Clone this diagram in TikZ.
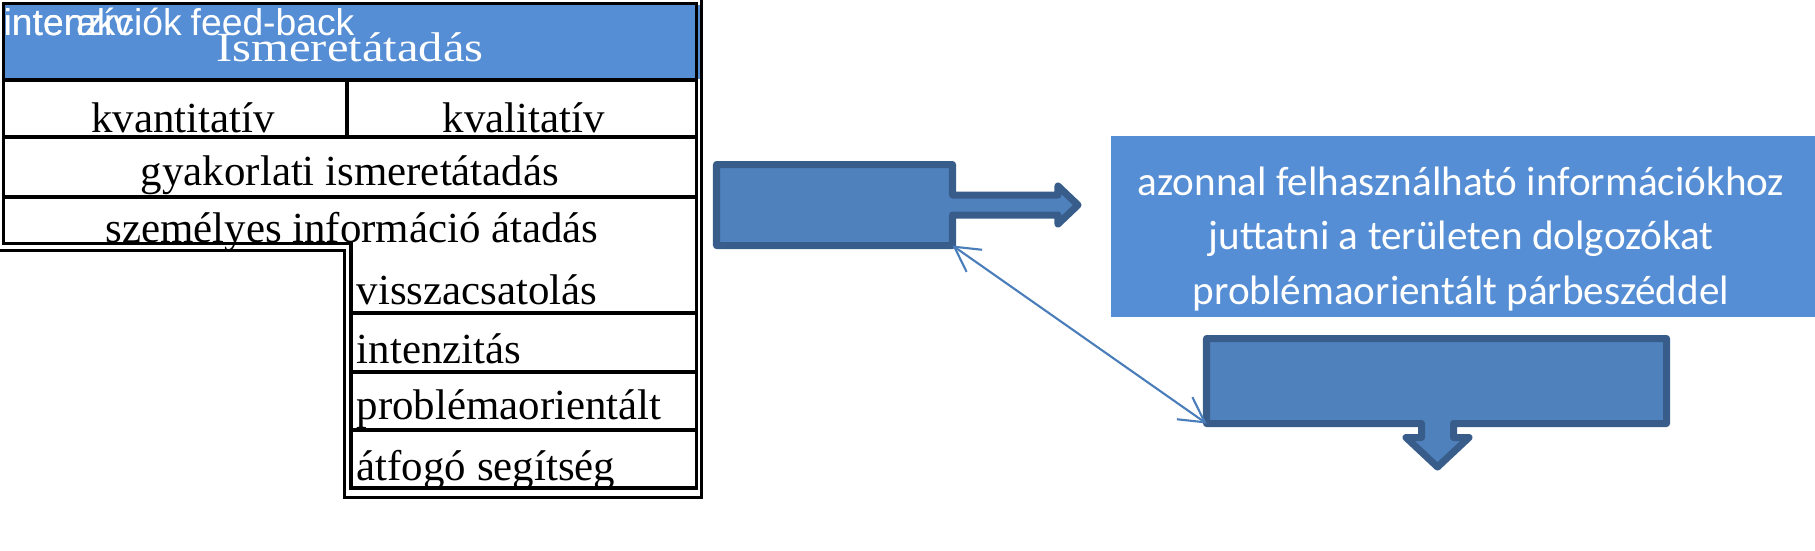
\documentclass[tikz,border=0pt]{standalone}
\usepackage{fontspec}
\usepackage{graphicx}
\setmainfont{Liberation Serif}
\newfontfamily\boxfont{Carlito}
\newfontfamily\tagfont{Liberation Sans}
\usetikzlibrary{positioning,arrows.meta}
\definecolor{headblue}{HTML}{558ED5}
\definecolor{arrowfill}{HTML}{4F81BD}
\definecolor{arrowline}{HTML}{385D8A}
\definecolor{linkblue}{HTML}{4A7EBB}
\tikzset{cell/.style={inner sep=0pt,anchor=base,font=\fontsize{12.2}{14}\selectfont},
            list cell/.style={cell,anchor=base west},
            head cell/.style={cell,text=white,font=\fontsize{11.8}{14}\selectfont},
            tag/.style={inner sep=0pt,anchor=base west,text=white,font=\tagfont\fontsize{10.6}{12}\selectfont},
            info box/.style={fill=headblue,minimum width=7.04cm,minimum height=1.81cm,inner sep=0pt},
            info text/.style={inner sep=0pt,text=white,align=center,font=\boxfont\fontsize{11.7}{15.5}\selectfont},
            rule/.style={line width=1pt},
            outer rule/.style={line width=0.85pt},
            block arrow/.style={draw=arrowline,fill=arrowfill,line width=2pt,line join=round},
            link/.style={draw=linkblue,line width=0.6pt,{Straight Barb[length=0.245cm,width=0.27cm]}-{Straight Barb[length=0.245cm,width=0.27cm]}},
            }

\begin{document}
\begin{tikzpicture}[x=0.01cm,y=-0.01cm]
    \useasboundingbox (0,0) rectangle (1815,550);

    % table
    \fill[headblue] (5,5) rectangle (700,79);
    \draw[rule] (3.5,3.5) -- (696.5,3.5) -- (696.5,488) -- (351,488) -- (351,243.5) -- (3.5,243.5) -- cycle;
    \draw[rule] (3.5,80) -- (696.5,80) (3.5,137) -- (696.5,137) (3.5,197) -- (696.5,197) (347,80) -- (347,137);
    \draw[rule] (351,313) -- (696.5,313) (351,372) -- (696.5,372) (351,430) -- (696.5,430);
    \draw[outer rule] (0,250.5) -- (344.5,250.5) -- (344.5,497) -- (701.5,497) -- (701.5,0);

    \node[tag] (inter) at (3,35) {interakciók};
    \node[tag] (intenziv) at (3,35) {intenzív};
    \node[tag] (feed) at (190,35) {feed-back};
    \node[head cell] (head) at (350,61) {\scalebox{1.17}[1]{Ismeretátadás}};

    \node[cell] (kvanti) at (183,132) {kvantitatív};
    \node[cell] (kvali) at (524,132) {kvalitatív};
    \node[cell] (gyak) at (350,185) {gyakorlati ismeretátadás};
    \node[cell] (szem) at (352,242) {személyes információ átadás};

    \node[list cell] (vissza) at (356,304) {visszacsatolás};
    \node[list cell] (intenz) [below=0.59cm of vissza.base west,anchor=base west] {intenzitás};
    \node[list cell] (probl) [below=0.56cm of intenz.base west,anchor=base west] {problémaorientált};
    \node[list cell] (atfogo) [below=0.61cm of probl.base west,anchor=base west] {átfogó segítség};

    % block arrows
    \path[block arrow] (716.5,164.5) -- (952.5,164.5) -- (952.5,195) -- (1058,195) -- (1058,186)
        -- (1078,205) -- (1058,224) -- (1058,215) -- (952.5,215) -- (952.5,245.5) coordinate (c1)
        -- (716.5,245.5) -- cycle;
    \path[block arrow] (1206.5,338.5) -- (1666.5,338.5) -- (1666.5,423.5) -- (1453.5,423.5) -- (1453.5,437.5)
        -- (1469,437.5) -- (1437.5,467) -- (1406,437.5) -- (1421.5,437.5) -- (1421.5,423.5)
        -- (1206.5,423.5) coordinate (c2) -- cycle;

    \node[info box] (info) at (1463,226.5) {};
    \node[info text] (infotext) at (1461,239) {azonnal felhasználható információkhoz\\juttatni a területen dolgozókat\\problémaorientált párbeszéddel};

    \draw[link] (c1) -- (c2);

\end{tikzpicture}
\end{document}
